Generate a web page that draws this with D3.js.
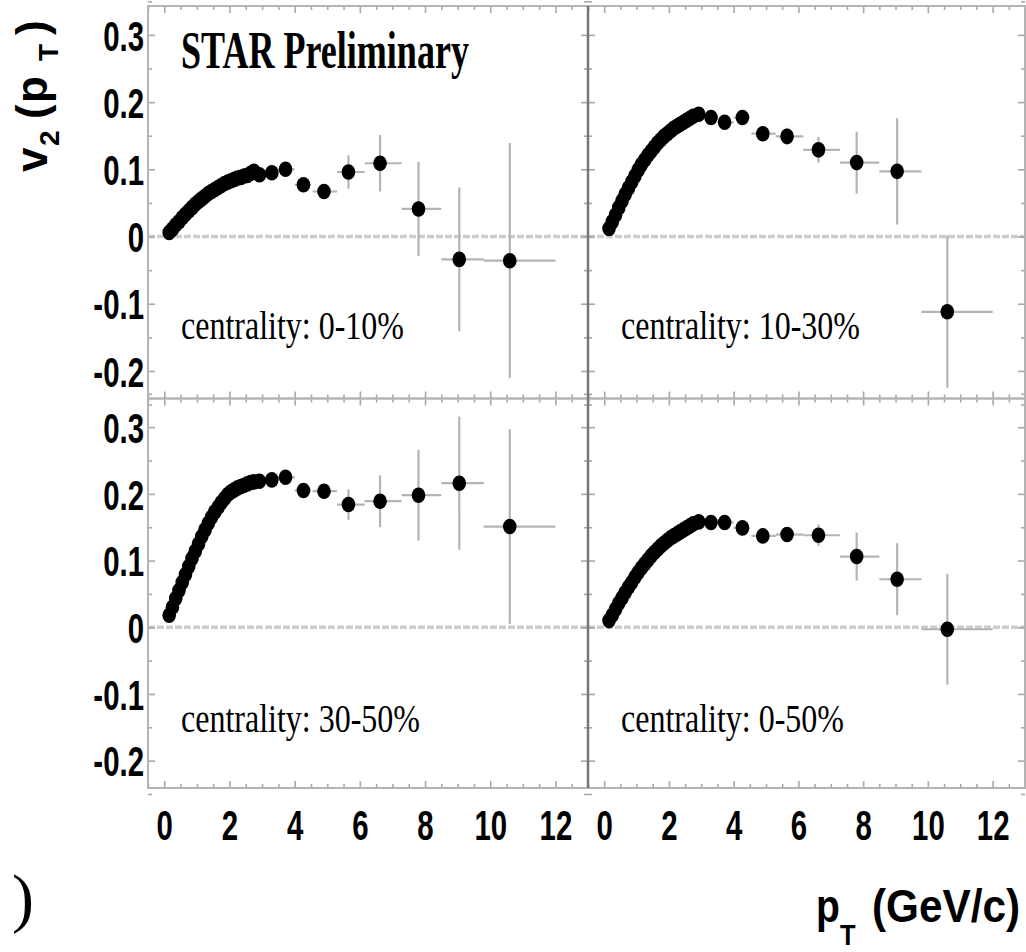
<!DOCTYPE html>
<html><head><meta charset="utf-8">
<script src="https://cdn.jsdelivr.net/npm/d3@7"></script>
<style>body{margin:0;background:#fff} svg{display:block}</style>
</head><body><svg id="c" width="1026" height="952"></svg>
<script>
// ---------- data ----------
const centralities = ["0-10%", "10-30%", "30-50%", "0-50%"];

// low-pT (dense) points, shared pT values
const pTLow = [0.15,0.25,0.35,0.45,0.55,0.65,0.75,0.85,0.95,1.05,1.15,1.25,1.35,1.45,1.55,1.65,1.75,1.85,1.95,2.05,2.15,2.25,2.35,2.45,2.55,2.65,2.75];
const v2Low_0_10  = [0.006,0.011,0.017,0.022,0.028,0.033,0.038,0.043,0.048,0.052,0.056,0.060,0.064,0.067,0.070,0.073,0.076,0.079,0.081,0.083,0.085,0.087,0.088,0.090,0.091,0.094,0.097];
const v2Low_10_30 = [0.012,0.022,0.032,0.043,0.053,0.063,0.072,0.081,0.090,0.099,0.107,0.114,0.121,0.127,0.133,0.139,0.144,0.149,0.153,0.157,0.161,0.164,0.167,0.170,0.173,0.176,0.179];
const v2Low_30_50 = [0.018,0.030,0.043,0.055,0.067,0.079,0.091,0.103,0.114,0.125,0.136,0.146,0.156,0.165,0.173,0.180,0.187,0.193,0.199,0.203,0.206,0.209,0.211,0.213,0.215,0.217,0.218];
const v2Low_0_50  = [0.010,0.018,0.027,0.036,0.044,0.052,0.060,0.067,0.075,0.082,0.089,0.095,0.101,0.107,0.112,0.117,0.122,0.126,0.130,0.134,0.137,0.140,0.143,0.146,0.149,0.152,0.155];

// high-pT binned points
const pTHigh = [2.92, 3.3, 3.72, 4.27, 4.9, 5.65, 6.62, 7.8, 9.05, 10.6];
const binLo  = [2.78, 3.1, 3.5, 4.0, 4.55, 5.3, 6.15, 7.28, 8.5, 9.8];
const binHi  = [3.1, 3.5, 4.0, 4.5, 5.3, 6.15, 7.28, 8.5, 9.8, 12.0];
const v2High_0_10  = [0.092, 0.095, 0.100, 0.077, 0.067, 0.096, 0.109, 0.041, -0.034, -0.036];
const err_0_10     = [0.004, 0.005, 0.006, 0.007, 0.009, 0.025, 0.042, 0.070, 0.107, 0.175];
const v2High_10_30 = [0.182, 0.177, 0.170, 0.177, 0.153, 0.149, 0.129, 0.110, 0.097, -0.112];
const err_10_30    = [0.004, 0.005, 0.006, 0.007, 0.009, 0.013, 0.019, 0.046, 0.079, 0.113];
const v2High_30_50 = [0.219, 0.221, 0.225, 0.205, 0.204, 0.184, 0.189, 0.198, 0.216, 0.151];
const err_30_50    = [0.004, 0.005, 0.006, 0.007, 0.010, 0.023, 0.039, 0.068, 0.100, 0.146];
const v2High_0_50  = [0.158, 0.157, 0.157, 0.149, 0.137, 0.139, 0.138, 0.106, 0.072, -0.003];
const err_0_50     = [0.003, 0.004, 0.005, 0.006, 0.007, 0.010, 0.016, 0.036, 0.054, 0.083];

const xMajorTicks = [0, 2, 4, 6, 8, 10, 12];
const yMajorTicks = [-0.2, -0.1, 0, 0.1, 0.2, 0.3];
const xTickLabels = ["0", "2", "4", "6", "8", "10", "12"];
const yTickLabels = ["-0.2", "-0.1", "0", "0.1", "0.2", "0.3"];

// ---------- layout ----------
const svg = d3.select("#c");
const cols = [[148, 588], [588, 1025]];
const rows = [[6, 398.5], [398.5, 788]];
const xDomain = [-0.5, 13.0], yDomain = [-0.241, 0.343];
const xMinor = d3.range(-0.5, 13.01, 0.5).filter(v => v % 2 !== 0);
const yMinor = d3.range(-0.25, 0.351, 0.05).map(v => +v.toFixed(2)).filter(v => Math.abs(Math.round(v * 10) - v * 10) > 0.01);

const panels = [
  {c: 0, r: 0, low: v2Low_0_10,  high: v2High_0_10,  err: err_0_10,  lab: centralities[0]},
  {c: 1, r: 0, low: v2Low_10_30, high: v2High_10_30, err: err_10_30, lab: centralities[1]},
  {c: 0, r: 1, low: v2Low_30_50, high: v2High_30_50, err: err_30_50, lab: centralities[2]},
  {c: 1, r: 1, low: v2Low_0_50,  high: v2High_0_50,  err: err_0_50,  lab: centralities[3]}
];

const tickColor = "#a8a8a8";
const labelFont = "'Liberation Sans', Arial, sans-serif";
const serifFont = "'Liberation Serif', 'Times New Roman', serif";
const tickFs = 42, tickSx = 0.7;

panels.forEach((p, i) => {
  const [x0, x1] = cols[p.c], [y0, y1] = rows[p.r];
  const x = d3.scaleLinear().domain(xDomain).range([x0, x1]);
  const y = d3.scaleLinear().domain(yDomain).range([y1, y0]);
  const g = svg.append("g");
  const clipId = "clip" + i;
  svg.append("clipPath").attr("id", clipId).append("rect")
    .attr("x", x0).attr("y", y0).attr("width", x1 - x0).attr("height", y1 - y0);

  // zero line
  g.append("line").attr("x1", x0).attr("x2", x1).attr("y1", y(0)).attr("y2", y(0))
    .attr("stroke", "#cdcdcd").attr("stroke-width", 3.5).attr("stroke-dasharray", "7,2");

  const data = g.append("g").attr("clip-path", `url(#${clipId})`);
  // error bars
  const hi = pTHigh.map((pt, k) => ({pt, v: p.high[k], e: p.err[k], lo: binLo[k], hi: binHi[k]}));
  data.selectAll("line.ex").data(hi).join("line").attr("class", "ex")
    .attr("x1", d => x(d.lo)).attr("x2", d => x(d.hi)).attr("y1", d => y(d.v)).attr("y2", d => y(d.v))
    .attr("stroke", "#b4b4b4").attr("stroke-width", 2.2);
  data.selectAll("line.ey").data(hi).join("line").attr("class", "ey")
    .attr("x1", d => x(d.pt)).attr("x2", d => x(d.pt)).attr("y1", d => y(d.v - d.e)).attr("y2", d => y(d.v + d.e))
    .attr("stroke", "#b4b4b4").attr("stroke-width", 2.2);
  // markers
  const pts = pTLow.map((pt, k) => ({pt, v: p.low[k]})).concat(hi.map(d => ({pt: d.pt, v: d.v})));
  data.selectAll("ellipse").data(pts).join("ellipse")
    .attr("cx", d => x(d.pt)).attr("cy", d => y(d.v)).attr("rx", 6.8).attr("ry", 7.8).attr("fill", "#000");

  // ticks
  const axG = g.append("g");
  const mk = (gen, tr) => {
    const a = axG.append("g").attr("transform", tr).call(gen);
    a.select(".domain").remove();
    a.selectAll("line").attr("stroke", tickColor).attr("stroke-width", 1.6);
    a.selectAll("text").remove();
  };
  mk(d3.axisBottom(x).tickValues(xMajorTicks).tickSize(-7), `translate(0,${y1})`);
  mk(d3.axisBottom(x).tickValues(xMinor).tickSize(-4), `translate(0,${y1})`);
  mk(d3.axisTop(x).tickValues(xMajorTicks).tickSize(-7), `translate(0,${y0})`);
  mk(d3.axisTop(x).tickValues(xMinor).tickSize(-4), `translate(0,${y0})`);
  mk(d3.axisLeft(y).tickValues(yMajorTicks).tickSize(-7), `translate(${x0},0)`);
  mk(d3.axisLeft(y).tickValues(yMinor).tickSize(-4), `translate(${x0},0)`);
  mk(d3.axisRight(y).tickValues(yMajorTicks).tickSize(-7), `translate(${x1},0)`);
  mk(d3.axisRight(y).tickValues(yMinor).tickSize(-4), `translate(${x1},0)`);

  // tick labels
  if (p.c === 0) {
    const ya = svg.append("g").attr("transform", `translate(${x0},0)`)
      .call(d3.axisLeft(y).tickValues(yMajorTicks).tickSize(0).tickPadding(4)
        .tickFormat((d, k) => yTickLabels[k]));
    ya.select(".domain").remove();
    ya.selectAll("text").attr("font-family", labelFont).attr("font-weight", "bold")
      .attr("font-size", tickFs).attr("fill", "#000").attr("dy", "0.36em")
      .attr("x", -4 / tickSx).attr("transform", `scale(${tickSx},1)`);
  }
  if (p.r === 1) {
    const xa = svg.append("g").attr("transform", `translate(0,${y1})`)
      .call(d3.axisBottom(x).tickValues(xMajorTicks).tickSize(0).tickPadding(22)
        .tickFormat((d, k) => xTickLabels[k]));
    xa.select(".domain").remove();
    xa.selectAll("text").attr("font-family", labelFont).attr("font-weight", "bold")
      .attr("font-size", tickFs).attr("fill", "#000").attr("transform", `scale(${tickSx},1)`);
  }

  // centrality label
  const lx = x0 + 33, ly = y0 + 333;
  svg.append("text").attr("transform", `translate(${lx},${ly}) scale(0.8,1)`)
    .attr("font-family", serifFont).attr("font-size", 40).attr("fill", "#000")
    .text("centrality: " + p.lab);
});

// frame
const F = svg.append("g").attr("fill", "none");
F.append("rect").attr("x", 148).attr("y", 6).attr("width", 1025 - 148).attr("height", 788 - 6)
  .attr("stroke", "#b4b4b4").attr("stroke-width", 2);
F.append("line").attr("x1", 148).attr("x2", 1025).attr("y1", 398.5).attr("y2", 398.5)
  .attr("stroke", "#b4b4b4").attr("stroke-width", 2.5);
F.append("line").attr("x1", 588).attr("x2", 588).attr("y1", 6).attr("y2", 788)
  .attr("stroke", "#777").attr("stroke-width", 2.5);

// STAR Preliminary
svg.append("text").attr("transform", "translate(181,68) scale(0.68,1)")
  .attr("font-family", serifFont).attr("font-weight", "bold").attr("font-size", 53).attr("fill", "#000")
  .text("STAR Preliminary");

// y-axis title v2(pT), rotated
const yt = svg.append("g").attr("transform", "translate(47,172) rotate(-90)")
  .attr("font-family", labelFont).attr("font-weight", "bold").attr("fill", "#000");
yt.append("text").attr("x", 0).attr("y", 0).attr("font-size", 44).text("v");
yt.append("text").attr("x", 26).attr("y", 12).attr("font-size", 28).text("2");
yt.append("text").attr("x", 53).attr("y", 0).attr("font-size", 44).text("(");
yt.append("text").attr("x", 69).attr("y", 0).attr("font-size", 44).text("p");
yt.append("text").attr("x", 111).attr("y", 11).attr("font-size", 28).text("T");
yt.append("text").attr("x", 137).attr("y", 0).attr("font-size", 44).text(")");

// x-axis title pT (GeV/c)
const xt = svg.append("g").attr("font-family", labelFont).attr("font-weight", "bold").attr("fill", "#000");
xt.append("text").attr("transform", "translate(816,922) scale(0.85,1)").attr("font-size", 46).text("p");
xt.append("text").attr("transform", "translate(840,945) scale(0.85,1)").attr("font-size", 30).text("T");
xt.append("text").attr("transform", "translate(872,922) scale(0.9,1)").attr("font-size", 47).text("(GeV/c)");

// stray parenthesis at bottom-left
svg.append("text").attr("x", 12).attr("y", 920).attr("font-family", serifFont)
  .attr("font-size", 66).attr("fill", "#000").text(")");
</script>
</body></html>
